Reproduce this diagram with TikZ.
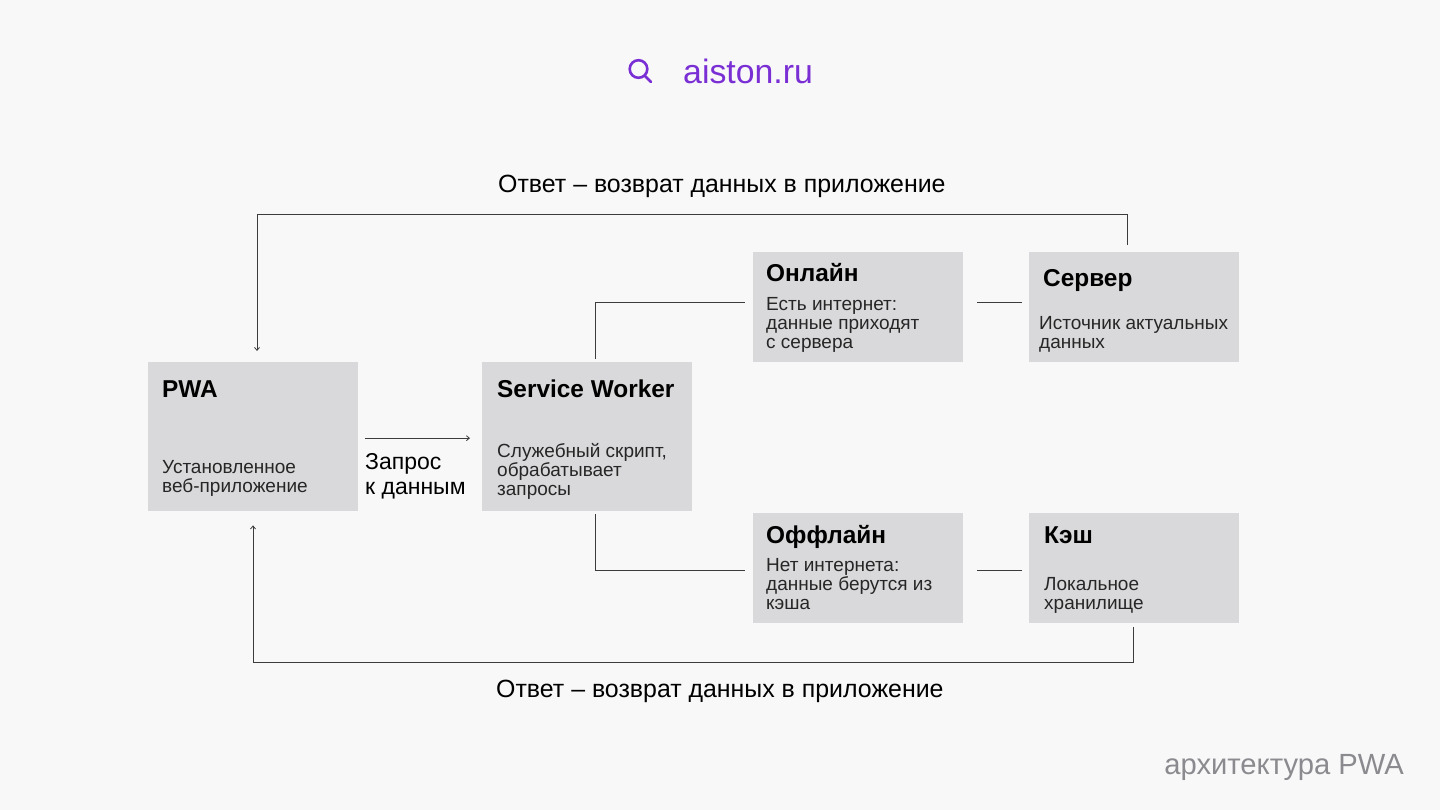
\documentclass[tikz,border=0pt]{standalone}
\usepackage{fontspec}
\setmainfont{Liberation Sans}
\usetikzlibrary{arrows.meta}
\definecolor{bgc}{HTML}{F8F8F9}
\definecolor{boxc}{HTML}{D9D9DB}
\definecolor{purp}{HTML}{7A2FD4}
\definecolor{grayt}{HTML}{8B8B8F}
\definecolor{linec}{HTML}{3C3C3C}
\tikzset{
  card/.style={fill=boxc,draw=none,inner sep=0pt,anchor=north west},
  wide/.style={card,minimum width=210pt,minimum height=149pt},
  low/.style={card,minimum width=210pt,minimum height=110pt},
  head/.style={anchor=base west,inner sep=0pt,font=\fontsize{24.4}{28}\selectfont\bfseries,text=black},
  body/.style={anchor=north west,inner sep=0pt,align=left,font=\fontsize{19}{19}\selectfont,text=black!85},
  label/.style={anchor=base west,inner sep=0pt,font=\fontsize{24.9}{28}\selectfont,text=black},
  conn/.style={draw=linec,line width=0.8pt},
  arr/.style={conn,-{Straight Barb[length=3pt,width=5pt]}}
}
\begin{document}
\begin{tikzpicture}[x=1pt,y=-1pt]
\useasboundingbox (0,0) rectangle (1440,810);
\fill[bgc] (0,0) rectangle (1440,810);
% search bar
\draw[purp,line width=2.6pt] (638.5,69) circle (8.8pt);
\draw[purp,line width=2.6pt,line cap=round] (645,76) -- (651,82);
\node[anchor=base west,inner sep=0pt,text=purp,font=\fontsize{33.8}{36}\selectfont] (site) at (683,84) {aiston.ru};
% boxes
\node[wide] (pwa) at (148,362) {};
\node[wide] (sw) at (482,362) {};
\node[low] (onl) at (753,252) {};
\node[low] (srv) at (1029,252) {};
\node[low] (off) at (753,513) {};
\node[low] (cache) at (1029,513) {};
% box text
\node[head] (t1) at (162,397) {PWA};
\node[body] (b1) at (162,460.5) {Установленное\\веб-приложение};
\node[head] (t2) at (497,397) {Service Worker};
\node[body] (b2) at (497,443.5) {Служебный скрипт,\\обрабатывает\\запросы};
\node[head] (t3) at (766,282) {Онлайн};
\node[body] (b3) at (766,297.5) {Есть интернет:\\данные приходят\\с сервера};
\node[head] (t4) at (1043,287) {Сервер};
\node[body] (b4) at (1039,316.5) {Источник актуальных\\данных};
\node[head] (t5) at (766,543) {Оффлайн};
\node[body] (b5) at (766,558.5) {Нет интернета:\\данные берутся из\\кэша};
\node[head] (t6) at (1044,543) {Кэш};
\node[body] (b6) at (1044,577.5) {Локальное\\хранилище};
% labels
\node[label] (top) at (498,193) {Ответ – возврат данных в приложение};
\node[label] (bot) at (496,697) {Ответ – возврат данных в приложение};
\node[anchor=north west,inner sep=0pt,align=left,font=\fontsize{23}{25}\selectfont] (req) at (365,453) {Запрос\\к данным};
\node[anchor=base east,inner sep=0pt,text=grayt,font=\fontsize{29.2}{34}\selectfont] (foot) at (1404,774) {архитектура PWA};
% connectors
\coordinate (topc) at (257,214);
\coordinate (botc) at (253,662);
\draw[arr,shorten <=7pt] ([xshift=-7pt]srv.north) |- (topc) -- ([yshift=11pt]topc |- pwa.north);
\draw[arr,shorten <=4pt] ([xshift=-1pt]cache.south) |- (botc) -- ([yshift=-14pt]botc |- pwa.south);
\draw[conn,shorten <=3pt,shorten >=8pt] ([xshift=8pt]sw.north) |- ([yshift=5pt]onl.west);
\draw[conn,shorten <=3pt,shorten >=8pt] ([xshift=8pt]sw.south) |- ([yshift=-2pt]off.west);
\draw[conn,shorten <=14pt,shorten >=7pt] ([yshift=5pt]onl.east) -- ([yshift=5pt]srv.west);
\draw[conn,shorten <=14pt,shorten >=7pt] ([yshift=-2pt]off.east) -- ([yshift=-2pt]cache.west);
\draw[arr,shorten <=7pt,shorten >=12pt] ([yshift=-1.5pt]pwa.east) -- ([yshift=-1.5pt]sw.west);
\end{tikzpicture}
\end{document}
